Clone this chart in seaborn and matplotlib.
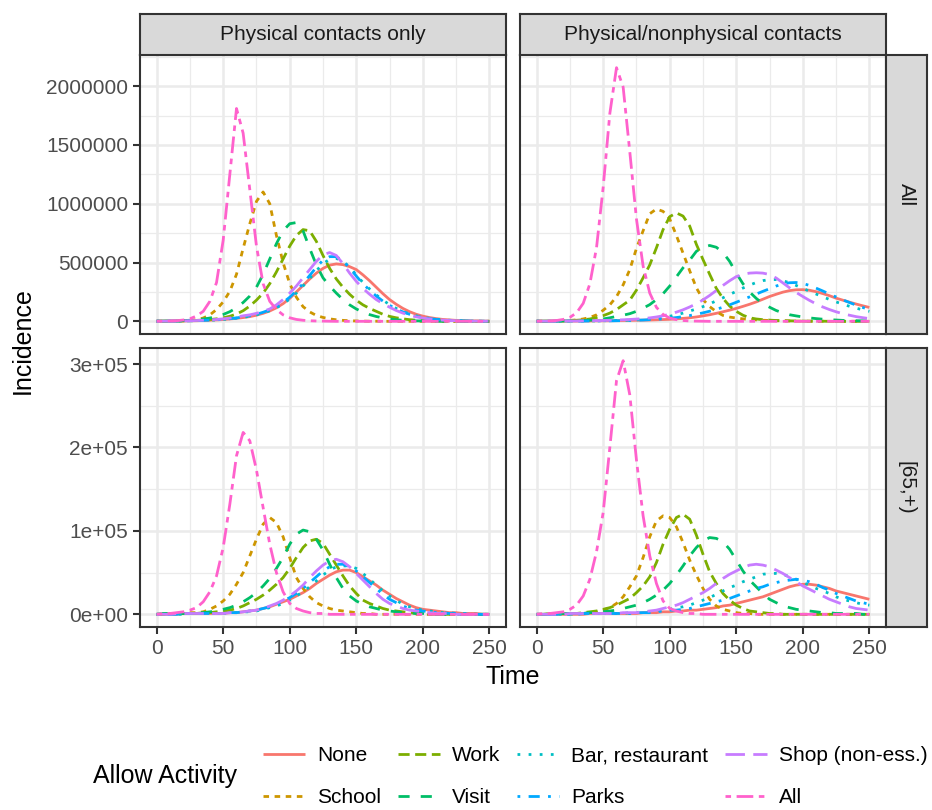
import matplotlib
matplotlib.use("Agg")
import matplotlib.pyplot as plt
import seaborn as sns
import pandas as pd
from matplotlib.lines import Line2D
from matplotlib.ticker import FixedLocator, FuncFormatter

# ---------------- data (incidence in thousands, every 5 days) ----------------
time_days = list(range(0, 251, 5))
activity_levels = ["None", "School", "Work", "Visit", "Bar, restaurant",
                   "Parks", "Shop (non-ess.)", "All"]
contact_levels = ["Physical contacts only", "Physical/nonphysical contacts"]
age_levels = ["All", "[65,+)"]

# Physical contacts only, all ages
pc_all_none = [1,1,2,2,3,4,5,7,9,12, 15,20,25,32,40,52,68,88,115,150, 195,250,305,360,410,450,478,488,482,465,
               440,395,345,290,235,185,145,110,82,60, 44,32,23,16,12,8,6,4,3,2, 1]
pc_all_school = [1,1,2,3,5,8,14,28,55,100, 165,255,400,620,830,1020,1100,1000,730,500, 320,205,125,80,50,33,21,13,8,5,
                 3,2,1,1,0,0,0,0,0,0, 0,0,0,0,0,0,0,0,0,0, 0]
pc_all_work = [1,1,2,3,4,6,8,11,15,21, 30,43,62,90,130,180,240,320,420,530, 640,730,780,770,680,560,450,360,290,230,
               180,140,110,85,60,42,30,21,14,10, 7,5,3,2,1,1,1,0,0,0, 0]
pc_all_visit = [1,2,3,4,6,9,13,19,28,40, 58,82,115,160,215,290,400,530,660,770, 830,840,770,620,480,370,300,240,185,140,
                105,78,57,41,29,20,14,9,6,4, 3,2,1,1,0,0,0,0,0,0, 0]
pc_all_bar = [1,1,2,2,3,4,5,7,9,12, 16,21,27,34,43,55,70,90,115,148, 190,240,300,365,430,490,528,535,510,460,
              395,330,275,225,180,142,110,84,63,47, 34,25,18,13,9,6,4,3,2,1, 1]
pc_all_parks = [1,1,2,2,3,4,6,8,10,13, 17,22,29,37,47,60,77,98,125,160, 205,260,320,390,460,520,550,550,515,455,
                385,320,265,215,172,136,105,80,60,44, 32,23,16,11,8,6,4,3,2,1, 1]
pc_all_shop = [1,1,2,3,4,5,7,9,12,16, 21,28,36,47,55,68,85,105,140,185, 240,300,370,440,510,565,585,560,490,410,
               340,280,230,185,150,120,92,70,52,38, 28,20,14,10,7,5,3,2,1,1, 1]
pc_all_all = [1,1,3,5,11,22,45,85,170,330, 690,1250,1810,1600,1120,640,320,170,100,55, 30,16,9,5,3,2,1,0,0,0,
              0,0,0,0,0,0,0,0,0,0, 0,0,0,0,0,0,0,0,0,0, 0]

# Physical/nonphysical contacts, all ages
pn_all_none = [1,1,1,1,2,2,2,3,3,4, 4,5,6,7,8,9,10,11,13,15, 17,21,25,30,37,46,56,68,81,95,
               110,127,145,165,188,211,230,248,261,268, 269,264,252,236,218,197,180,163,147,132, 118]
pn_all_school = [1,1,2,3,5,8,12,20,33,55, 94,140,210,310,440,620,770,915,955,935, 870,730,580,430,285,185,125,82,50,36,
                 28,21,16,12,9,7,5,4,3,2, 2,1,1,1,0,0,0,0,0,0, 0]
pn_all_work = [1,1,2,3,4,6,9,13,20,32, 48,70,100,140,180,265,370,480,625,780, 890,922,895,810,655,525,400,280,195,130,
               85,52,30,20,14,10,7,5,4,3, 2,1,1,1,0,0,0,0,0,0, 0]
pn_all_visit = [1,1,1,2,3,4,5,7,9,14, 20,30,42,52,65,85,112,142,185,235, 300,378,455,520,595,630,645,630,585,510,
                410,320,250,195,150,120,92,72,56,46, 37,29,23,18,14,11,8,6,5,4, 3]
pn_all_bar = [1,1,1,1,2,2,2,3,3,4, 5,6,7,8,10,12,15,19,25,33, 43,55,70,87,105,125,148,175,200,228,
              255,283,308,330,346,355,355,345,328,305, 280,256,232,208,186,165,146,128,112,98, 85]
pn_all_parks = [1,1,1,1,1,2,2,2,3,3, 4,4,5,6,7,9,11,14,17,21, 26,32,40,49,60,72,86,102,120,140,
                162,185,208,232,255,277,300,318,328,330, 322,305,282,258,232,207,183,160,138,118, 100]
pn_all_shop = [1,1,1,2,2,3,3,4,5,6, 7,9,11,13,16,19,24,29,37,47, 61,78,98,122,150,182,220,262,305,345,
               380,400,410,413,410,398,368,327,285,246, 211,178,148,122,100,81,65,52,40,31, 23]
pn_all_all = [1,2,3,7,16,34,72,153,319,627, 1140,1768,2157,1992,1441,870,470,240,119,58, 28,14,7,3,2,1,0,0,0,0,
              0,0,0,0,0,0,0,0,0,0, 0,0,0,0,0,0,0,0,0,0, 0]

# Physical contacts only, age 65+
pc_old_none = [0,0,0,0,1,1,1,1,1,1, 1,2,2,3,4,5,7,9,12,15, 18,22,26,31,37,42,47,51,53,53,
               50,45,40,35,29,24,19,15,11,8, 6,5,4,3,2,2,1,1,1,0, 0]
pc_old_school = [0,0,1,1,1,2,2,3,6,10, 16,24,36,50,70,90,108,116,110,93, 68,44,31,21,14,10,7,5,4,3,
                 2,1,1,0,0,0,0,0,0,0, 0,0,0,0,0,0,0,0,0,0, 0]
pc_old_work = [0,0,1,1,1,1,1,2,2,3, 4,5,7,10,14,18,23,29,36,44, 55,68,80,88,90,85,72,59,46,34,
               25,17,13,10,7,5,4,3,2,1, 1,0,0,0,0,0,0,0,0,0, 0]
pc_old_visit = [0,1,1,1,1,1,2,2,3,4, 6,8,11,15,20,26,34,43,55,68, 84,96,101,99,90,77,60,44,31,22,
                16,12,9,7,5,4,3,2,2,1, 1,0,0,0,0,0,0,0,0,0, 0]
pc_old_bar = [0,0,0,0,0,1,1,1,1,1, 1,2,2,3,3,4,6,8,10,13, 17,22,27,33,40,47,53,57,58,58,
              55,49,42,35,28,22,17,12,9,7, 5,4,3,2,2,1,1,1,0,0, 0]
pc_old_parks = [0,0,0,0,1,1,1,1,1,1, 1,2,2,3,4,5,7,9,12,16, 20,25,31,38,45,52,57,60,60,57,
                52,45,38,31,24,18,14,10,7,5, 4,3,2,2,1,1,1,0,0,0, 0]
pc_old_shop = [0,0,0,1,1,1,1,1,1,1, 1,2,2,3,4,5,7,10,13,17, 22,28,35,44,52,59,64,66,63,57,
               49,41,33,25,18,13,10,7,5,4, 3,2,1,1,1,0,0,0,0,0, 0]
pc_old_all = [0,1,1,2,3,5,8,15,27,46, 80,132,190,218,208,173,128,84,50,27, 13,7,4,2,1,1,0,0,0,0,
              0,0,0,0,0,0,0,0,0,0, 0,0,0,0,0,0,0,0,0,0, 0]

# Physical/nonphysical contacts, age 65+
pn_old_none = [0,0,0,0,0,0,0,0,1,1, 1,1,1,1,1,1,2,2,2,3, 3,4,4,5,5,6,7,8,10,11,
               13,15,17,19,21,24,27,30,33,35, 36,36,35,33,31,28,26,24,22,20, 18]
pn_old_school = [0,0,1,1,1,1,1,1,2,3, 5,8,13,21,33,46,68,93,112,118, 116,105,86,65,47,31,18,10,6,4,
                 2,1,1,0,0,0,0,0,0,0, 0,0,0,0,0,0,0,0,0,0, 0]
pn_old_work = [0,0,1,1,1,1,1,2,3,4, 6,8,11,15,19,26,34,45,62,84, 102,116,120,114,95,72,51,37,25,17,
               11,7,4,3,2,1,1,0,0,0, 0,0,0,0,0,0,0,0,0,0, 0]
pn_old_visit = [0,0,0,1,1,1,1,1,2,2, 3,4,5,7,9,11,14,18,23,29, 37,47,58,70,80,88,92,91,87,78,
                65,52,41,33,25,18,14,10,8,6, 5,4,3,2,2,1,1,1,1,0, 0]
pn_old_bar = [0,0,0,0,0,0,1,1,1,1, 1,1,1,1,2,2,3,3,4,5, 6,8,9,11,14,17,20,24,28,32,
              35,39,42,45,48,49,49,48,45,42, 38,35,31,28,25,21,18,16,14,12, 11]
pn_old_parks = [0,0,0,0,0,0,0,1,1,1, 1,1,1,1,1,2,2,2,3,4, 5,5,6,7,9,11,13,15,17,19,
                22,25,28,31,33,36,38,40,41,42, 41,39,36,32,29,25,22,19,16,14, 12]
pn_old_shop = [0,0,0,0,0,1,1,1,1,1, 1,1,1,2,2,2,3,4,5,7, 9,11,14,18,22,26,31,37,43,48,
               52,56,59,60,59,57,53,49,44,39, 34,30,26,22,18,15,12,9,7,6, 5]
pn_old_all = [0,1,1,2,3,6,11,22,42,75, 122,200,280,304,263,185,118,70,37,16, 7,4,2,1,1,0,0,0,0,0,
              0,0,0,0,0,0,0,0,0,0, 0,0,0,0,0,0,0,0,0,0, 0]

panel_series = {
    ("Physical contacts only", "All"): [pc_all_none, pc_all_school, pc_all_work, pc_all_visit,
                                        pc_all_bar, pc_all_parks, pc_all_shop, pc_all_all],
    ("Physical/nonphysical contacts", "All"): [pn_all_none, pn_all_school, pn_all_work, pn_all_visit,
                                               pn_all_bar, pn_all_parks, pn_all_shop, pn_all_all],
    ("Physical contacts only", "[65,+)"): [pc_old_none, pc_old_school, pc_old_work, pc_old_visit,
                                           pc_old_bar, pc_old_parks, pc_old_shop, pc_old_all],
    ("Physical/nonphysical contacts", "[65,+)"): [pn_old_none, pn_old_school, pn_old_work, pn_old_visit,
                                                  pn_old_bar, pn_old_parks, pn_old_shop, pn_old_all],
}

records = []
for (ctype, age), lists in panel_series.items():
    for act, vals in zip(activity_levels, lists):
        for t, v in zip(time_days, vals):
            records.append((ctype, age, act, t, v * 1000.0))
df = pd.DataFrame(records, columns=["Contact", "Age", "Activity", "Time", "Incidence"])

# ---------------- styles ----------------
palette = {"None": "#F8766D", "School": "#CD9600", "Work": "#7CAE00", "Visit": "#00BE67",
           "Bar, restaurant": "#00BFC4", "Parks": "#00A9FF", "Shop (non-ess.)": "#C77CFF",
           "All": "#FF61CC"}
dash_map = {"None": "", "School": (2, 2), "Work": (4, 2), "Visit": (4, 4),
            "Bar, restaurant": (1, 3), "Parks": (1, 3, 4, 3), "Shop (non-ess.)": (7, 3),
            "All": (2, 2, 6, 2)}

plt.rcParams['font.family'] = ['Liberation Sans', 'DejaVu Sans']
plt.rcParams['lines.solid_capstyle'] = 'butt'

W, H = 932, 810
fig = plt.figure(figsize=(W / 100, H / 100), dpi=100)
fig.patch.set_facecolor("white")


def rect(x0, y0, x1, y1):
    return [x0 / W, 1 - y1 / H, (x1 - x0) / W, (y1 - y0) / H]


col_x = [(140, 506), (520, 886)]
row_y = [(55, 334), (348, 627)]
LW = 2.0
GRID_LW = 1.84
border_col = "#333333"

for ri, age in enumerate(age_levels):
    sub_row = df[df["Age"] == age]
    ymax = sub_row["Incidence"].max()
    for ci, ctype in enumerate(contact_levels):
        x0, x1 = col_x[ci]
        y0, y1 = row_y[ri]
        ax = fig.add_axes(rect(x0, y0, x1, y1))
        sub = sub_row[sub_row["Contact"] == ctype]
        sns.lineplot(data=sub, x="Time", y="Incidence", hue="Activity", style="Activity",
                     hue_order=activity_levels, style_order=activity_levels,
                     palette=palette, dashes=dash_map, estimator=None, errorbar=None,
                     linewidth=LW, legend=False, ax=ax)
        ax.set_xlim(-12.5, 262.5)
        ax.set_ylim(-0.05 * ymax, 1.05 * ymax)
        ax.set_xlabel("")
        ax.set_ylabel("")
        ax.set_facecolor("white")
        ax.set_axisbelow(True)
        ax.xaxis.set_major_locator(FixedLocator([0, 50, 100, 150, 200, 250]))
        ax.xaxis.set_minor_locator(FixedLocator([25, 75, 125, 175, 225]))
        if ri == 0:
            ax.yaxis.set_major_locator(FixedLocator([0, 500000, 1000000, 1500000, 2000000]))
            ax.yaxis.set_minor_locator(FixedLocator([250000, 750000, 1250000, 1750000, 2250000]))
            ax.yaxis.set_major_formatter(FuncFormatter(lambda v, p: f"{int(round(v))}"))
        else:
            ax.yaxis.set_major_locator(FixedLocator([0, 100000, 200000, 300000]))
            ax.yaxis.set_minor_locator(FixedLocator([50000, 150000, 250000]))
            ax.yaxis.set_major_formatter(FuncFormatter(lambda v, p: f"{v:.0e}"))
        ax.grid(which="major", color="#EBEBEB", linewidth=GRID_LW)
        ax.grid(which="minor", color="#EBEBEB", linewidth=GRID_LW / 2)
        for s in ax.spines.values():
            s.set_color(border_col)
            s.set_linewidth(1.5)
        ax.tick_params(which="minor", length=0)
        ax.tick_params(which="major", length=4.75, width=1.5, color=border_col,
                       labelsize=15, labelcolor="#4D4D4D", pad=3.8)
        if ri == 0:
            ax.tick_params(axis="x", which="major", length=0, labelbottom=False)
        if ci == 1:
            ax.tick_params(axis="y", which="major", length=0, labelleft=False)

        # top strips
        if ri == 0:
            sax = fig.add_axes(rect(x0, 14, x1, 55))
            sax.set_facecolor("#D9D9D9")
            sax.set_xticks([])
            sax.set_yticks([])
            for s in sax.spines.values():
                s.set_color(border_col)
                s.set_linewidth(1.5)
            sax.text(0.5, 0.5, ctype, ha="center", va="center", fontsize=15,
                     color="#1A1A1A", transform=sax.transAxes)
    # right strips
    y0, y1 = row_y[ri]
    rax = fig.add_axes(rect(886, y0, 927, y1))
    rax.set_facecolor("#D9D9D9")
    rax.set_xticks([])
    rax.set_yticks([])
    for s in rax.spines.values():
        s.set_color(border_col)
        s.set_linewidth(1.5)
    rax.text(0.5, 0.5, age, ha="center", va="center", fontsize=15, rotation=-90,
             color="#1A1A1A", transform=rax.transAxes)

# axis titles
fig.text(23 / W, 1 - 341 / H, "Incidence", rotation=90, ha="center", va="center",
         fontsize=18, color="black")
fig.text(513 / W, 1 - 677 / H, "Time", ha="center", va="center", fontsize=18, color="black")

# legend
handles = []
for act in activity_levels:
    d = dash_map[act]
    if d == "":
        h = Line2D([0], [0], color=palette[act], lw=LW, linestyle="-")
    else:
        h = Line2D([0], [0], color=palette[act], lw=LW, linestyle=(0, d))
    handles.append(h)
leg = fig.legend(handles, activity_levels, loc="upper left",
                 bbox_to_anchor=(263 / W, 1 - 746 / H), bbox_transform=fig.transFigure,
                 ncol=4, frameon=False, fontsize=15, handlelength=2.0, handletextpad=0.6,
                 columnspacing=0.8, labelspacing=1.1, borderpad=0, borderaxespad=0)
fig.text(93 / W, 1 - 776 / H, "Allow Activity", ha="left", va="center", fontsize=18,
         color="black")

fig.savefig("out.png", dpi=100)
